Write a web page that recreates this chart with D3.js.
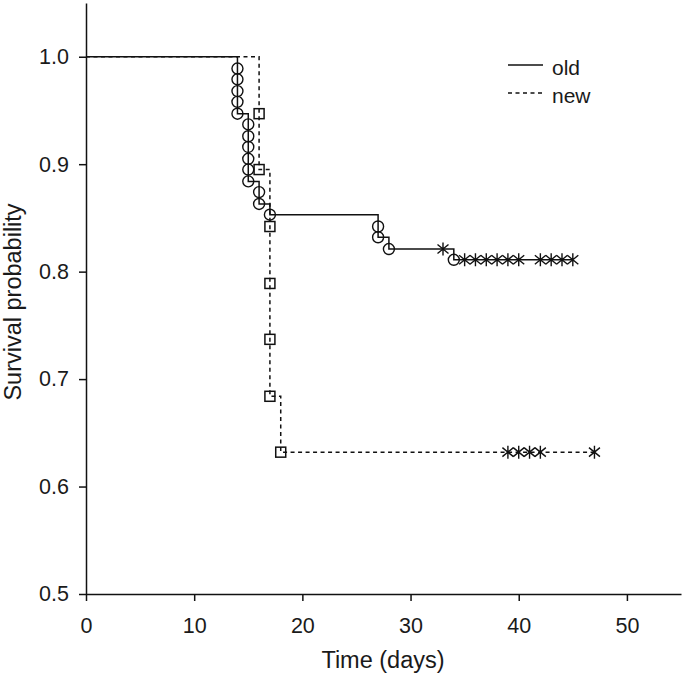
<!DOCTYPE html>
<html>
<head>
<meta charset="utf-8">
<script src="https://cdn.jsdelivr.net/npm/d3@7"></script>
<style>
  html, body { margin: 0; padding: 0; background: #fff; }
  svg { display: block; }
  text { font-family: "Liberation Sans", Arial, sans-serif; fill: #1a1a1a; }
</style>
</head>
<body>
<svg id="chart" width="685" height="678"></svg>
<script>
// ---- data ----
const xTicks = [0, 10, 20, 30, 40, 50];
const yTicks = [0.5, 0.6, 0.7, 0.8, 0.9, 1.0];

// step curve vertices (time, survival after the step)
const oldStepTimes = [0, 14, 15, 16, 17, 27, 28, 34, 45];
const oldStepSurv  = [1.0, 0.947, 0.884, 0.863, 0.853, 0.832, 0.821, 0.811, 0.811];
const newStepTimes = [0, 16, 17, 18, 47];
const newStepSurv  = [1.0, 0.895, 0.684, 0.632, 0.632];

// failure marks
const oldEventTimes = [14, 14, 14, 14, 14, 15, 15, 15, 15, 15, 15, 16, 16, 17, 27, 27, 28, 34];
const oldEventSurv  = [0.989, 0.979, 0.968, 0.958, 0.947, 0.937, 0.926, 0.916, 0.905, 0.895, 0.884, 0.874, 0.863, 0.853, 0.842, 0.832, 0.821, 0.811];
const newEventTimes = [16, 16, 17, 17, 17, 17, 18];
const newEventSurv  = [0.947, 0.895, 0.842, 0.789, 0.737, 0.684, 0.632];

// censored marks
const oldCensTimes = [33, 35, 36, 37, 38, 39, 40, 42, 43, 44, 45];
const oldCensSurv  = [0.821, 0.811, 0.811, 0.811, 0.811, 0.811, 0.811, 0.811, 0.811, 0.811, 0.811];
const newCensTimes = [39, 40, 41, 42, 47];
const newCensSurv  = [0.632, 0.632, 0.632, 0.632, 0.632];

const seriesNames = ["old", "new"];

// ---- drawing ----
const svg = d3.select("#chart");
const x = d3.scaleLinear().domain([0, 55]).range([86, 681]);
const y = d3.scaleLinear().domain([0.5, 1.05]).range([594, 3]);

const zip = (a, b) => a.map((v, i) => [v, b[i]]);

const line = d3.line()
  .x(d => x(d[0])).y(d => y(d[1]))
  .curve(d3.curveStepAfter);

// axes
const xAxis = d3.axisBottom(x).tickValues(xTicks).tickSize(7).tickSizeOuter(0).tickPadding(17).tickFormat(d3.format("d"));
const yAxis = d3.axisLeft(y).tickValues(yTicks).tickSize(7).tickSizeOuter(0).tickPadding(10).tickFormat(d3.format(".1f"));

const gx = svg.append("g").attr("transform", `translate(0,${y(0.5)})`).call(xAxis);
const gy = svg.append("g").attr("transform", `translate(${x(0)},0)`).call(yAxis);
[gx, gy].forEach(g => {
  g.selectAll("path.domain").attr("stroke", "#111").attr("stroke-width", 1.5);
  g.selectAll(".tick line").attr("stroke", "#111").attr("stroke-width", 1.5);
  g.selectAll(".tick text").attr("font-size", 21.5).attr("font-family", "Liberation Sans, Arial, sans-serif").attr("fill", "#1a1a1a");
});

// axis titles
svg.append("text")
  .attr("x", 383).attr("y", 668)
  .attr("text-anchor", "middle")
  .attr("font-size", 23.5)
  .text("Time (days)");
svg.append("text")
  .attr("transform", "translate(21,302) rotate(-90)")
  .attr("text-anchor", "middle")
  .attr("font-size", 23.5)
  .text("Survival probability");

const plot = svg.append("g");

// curves
plot.append("path")
  .datum(zip(newStepTimes, newStepSurv))
  .attr("d", line)
  .attr("fill", "none").attr("stroke", "#111").attr("stroke-width", 1.5)
  .attr("stroke-dasharray", "4,3.5");
plot.append("path")
  .datum(zip(oldStepTimes, oldStepSurv))
  .attr("d", line)
  .attr("fill", "none").attr("stroke", "#111").attr("stroke-width", 1.5);

// failure markers
plot.selectAll("circle.ev")
  .data(zip(oldEventTimes, oldEventSurv))
  .join("circle").attr("class", "ev")
  .attr("cx", d => x(d[0])).attr("cy", d => y(d[1]))
  .attr("r", 5.5)
  .attr("fill", "none").attr("stroke", "#111").attr("stroke-width", 1.4);

plot.selectAll("rect.ev")
  .data(zip(newEventTimes, newEventSurv))
  .join("rect").attr("class", "ev")
  .attr("x", d => x(d[0]) - 5).attr("y", d => y(d[1]) - 5)
  .attr("width", 10).attr("height", 10)
  .attr("fill", "none").attr("stroke", "#111").attr("stroke-width", 1.5);

// censor markers (asterisks)
const star = "M0,-6.5L0,6.5M-5.5,-4.5L5.5,4.5M-5.5,4.5L5.5,-4.5";
plot.selectAll("path.cens")
  .data(zip(oldCensTimes, oldCensSurv).concat(zip(newCensTimes, newCensSurv)))
  .join("path").attr("class", "cens")
  .attr("transform", d => `translate(${x(d[0])},${y(d[1])})`)
  .attr("d", star)
  .attr("fill", "none").attr("stroke", "#111").attr("stroke-width", 1.4);

// legend
const legend = svg.append("g");
const legendY = [65, 93];
seriesNames.forEach((name, i) => {
  legend.append("line")
    .attr("x1", 508).attr("x2", 543)
    .attr("y1", legendY[i]).attr("y2", legendY[i])
    .attr("stroke", "#111").attr("stroke-width", 1.5)
    .attr("stroke-dasharray", i === 1 ? "4,3.5" : null);
  legend.append("text")
    .attr("x", 552).attr("y", legendY[i] + 9.5)
    .attr("font-size", 21)
    .text(name);
});
</script>
</body>
</html>
